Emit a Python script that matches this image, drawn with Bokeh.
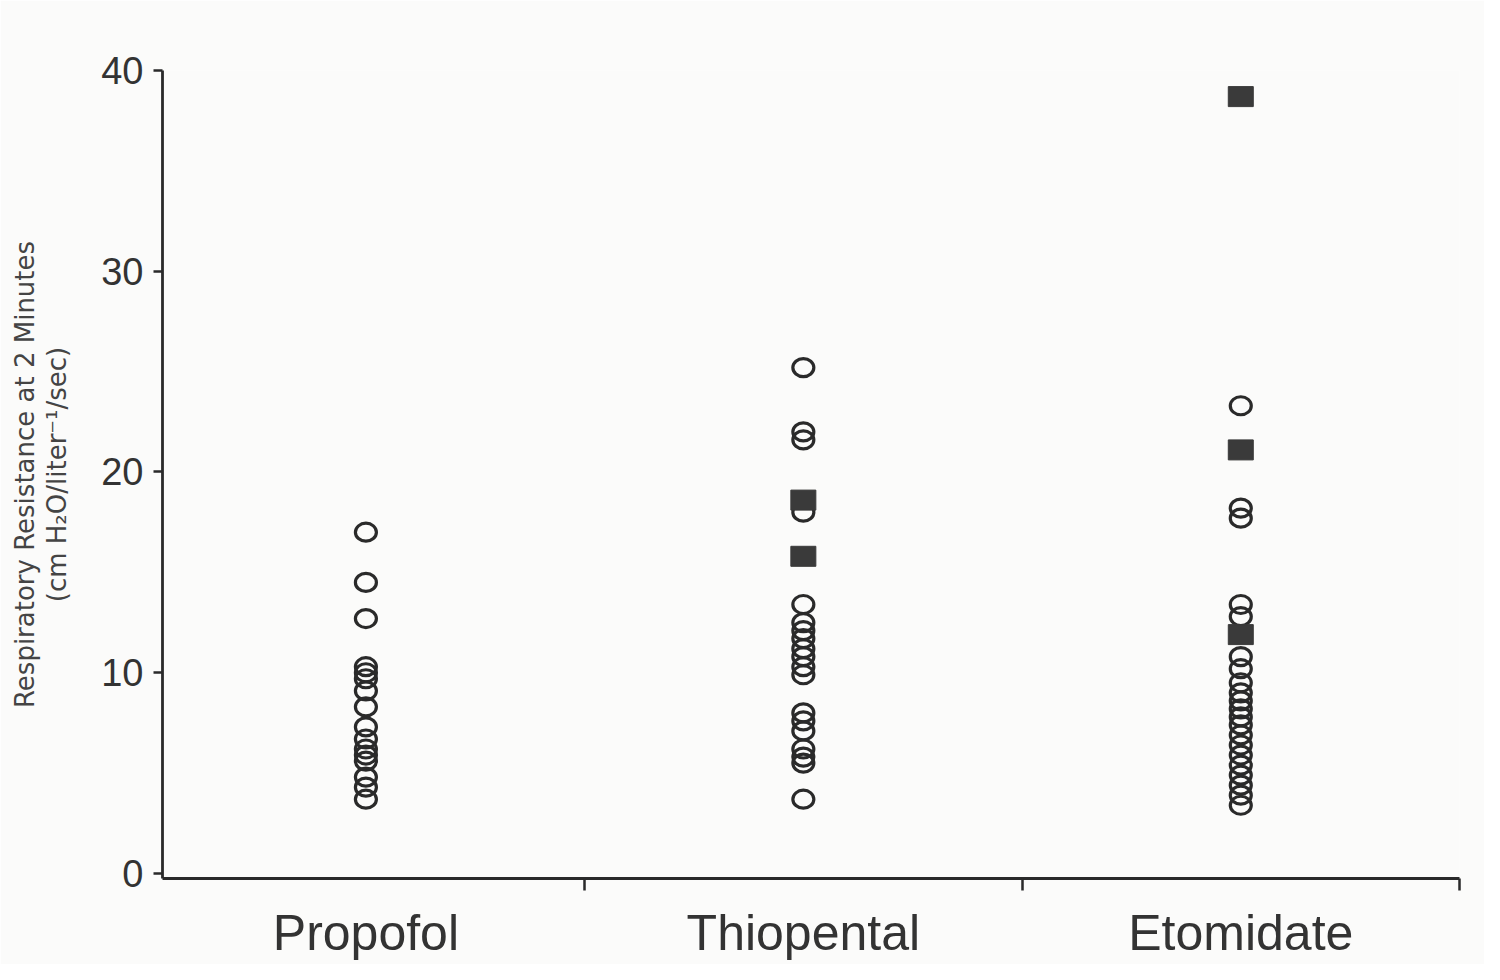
from bokeh.plotting import figure
from bokeh.models import FixedTicker, Range1d, LinearAxis
from bokeh.embed import file_html
from bokeh.resources import INLINE

categories = ["Propofol", "Thiopental", "Etomidate"]

propofol_open = [17.0, 14.5, 12.7, 10.3, 10.0, 9.7, 9.1, 8.3, 7.3, 6.7, 6.2, 5.9, 5.6, 4.8, 4.3, 3.7]
propofol_filled = []
thiopental_open = [25.2, 22.0, 21.6, 18.0, 13.4, 12.5, 12.1, 11.7, 11.2, 10.8, 10.3, 9.9,
                   8.0, 7.6, 7.1, 6.2, 5.8, 5.5, 3.7]
thiopental_filled = [18.6, 15.8]
etomidate_open = [23.3, 18.2, 17.7, 13.4, 12.8, 10.8, 10.2, 9.5, 9.0, 8.6, 8.2, 7.8, 7.4,
                  6.9, 6.4, 5.9, 5.4, 4.9, 4.4, 3.9, 3.4]
etomidate_filled = [38.7, 21.1, 11.9]

y_ticks = [0, 10, 20, 30, 40]
y_title_1 = "Respiratory Resistance at 2 Minutes"
y_title_2 = "(cm H\u2082O/liter\u207b\u00b9/sec)"

open_groups = [propofol_open, thiopental_open, etomidate_open]
filled_groups = [propofol_filled, thiopental_filled, etomidate_filled]

ox, oy, fx, fy = [], [], [], []
for i, (o, f) in enumerate(zip(open_groups, filled_groups)):
    ox += [i] * len(o)
    oy += o
    fx += [i] * len(f)
    fy += f

paper = "#fbfbfa"
ink = "#2a2a2a"

p = figure(width=1484, height=964, output_backend="svg", toolbar_location=None,
           x_range=Range1d(-0.465, 2.5), y_range=Range1d(-0.25, 40),
           min_border_left=162, min_border_right=25, min_border_top=70, min_border_bottom=86)
p.background_fill_color = paper
p.border_fill_color = paper
p.outline_line_color = None
p.grid.visible = False

# open circles (slightly elliptical)
p.ellipse(x=ox, y=oy, width=21, height=18, width_units="screen", height_units="screen",
          fill_color="white", fill_alpha=0.0, line_color=ink, line_width=3.2)
# filled squares
p.rect(x=fx, y=fy, width=25, height=20, width_units="screen", height_units="screen",
       fill_color="#3a3a3a", line_color="#3a3a3a", line_width=1)

# axes
xa = p.xaxis[0]
xa.ticker = FixedTicker(ticks=[0, 1, 2], minor_ticks=[0.5, 1.5, 2.5])
xa.major_label_overrides = {0: categories[0], 1: categories[1], 2: categories[2]}
xa.major_tick_out = 0
xa.major_tick_in = 0
xa.minor_tick_out = 12
xa.minor_tick_in = 0
xa.minor_tick_line_color = ink
xa.minor_tick_line_width = 2.5
xa.axis_line_color = ink
xa.axis_line_width = 2.8
xa.major_label_text_font = "Liberation Sans"
xa.major_label_text_font_size = "50px"
xa.major_label_text_color = "#333333"
xa.major_label_standoff = 14

ya = p.yaxis[0]
ya.ticker = FixedTicker(ticks=y_ticks, minor_ticks=[])
ya.major_tick_out = 9
ya.major_tick_in = 0
ya.major_tick_line_color = ink
ya.major_tick_line_width = 2.5
ya.axis_line_color = ink
ya.axis_line_width = 2.8
ya.major_label_text_font = "Liberation Sans"
ya.major_label_text_font_size = "38px"
ya.major_label_text_color = "#333333"
ya.major_label_standoff = 10
ya.axis_label = y_title_2
ya.axis_label_text_font = "DejaVu Sans"
ya.axis_label_text_font_size = "26px"
ya.axis_label_text_font_style = "normal"
ya.axis_label_text_color = "#444444"
ya.axis_label_standoff = 26

ya2 = LinearAxis(ticker=FixedTicker(ticks=[]), axis_line_color=None,
                 major_tick_line_color=None, minor_tick_line_color=None,
                 major_label_text_font_size="0px",
                 axis_label=y_title_1, axis_label_text_font="DejaVu Sans",
                 axis_label_text_font_size="26px", axis_label_text_font_style="normal",
                 axis_label_text_color="#444444", axis_label_standoff=0)
p.add_layout(ya2, "left")

open("out.html", "w").write(file_html(p, INLINE))
